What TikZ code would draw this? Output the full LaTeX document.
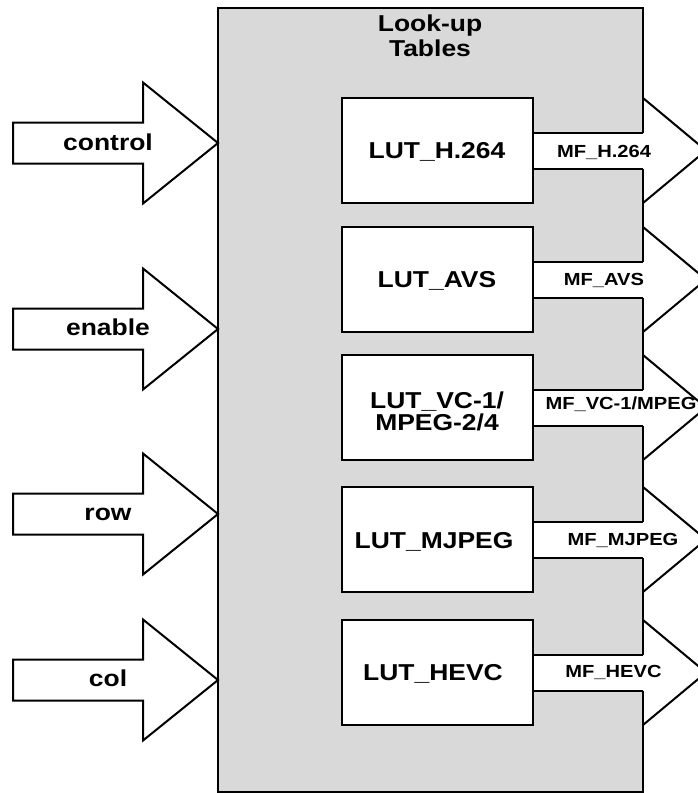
\documentclass[tikz,border=0pt]{standalone}
\usepackage{fontspec}
\setmainfont{Liberation Sans}
\usepackage{graphicx}
\definecolor{lutgray}{RGB}{217,217,217}
\newcommand\hstr[1]{\scalebox{1.15}[1]{#1}}
\begin{document}
\begin{tikzpicture}[x=1pt,y=-1pt,line width=2pt,line join=miter,
  bigtxt/.style={font=\fontsize{23}{25}\selectfont\bfseries,inner sep=0pt,anchor=base},
  smalltxt/.style={font=\fontsize{17.5}{19}\selectfont\bfseries,inner sep=0pt,anchor=base},
  lutbox/.style={draw,fill=white,minimum width=191pt,minimum height=105pt,inner sep=0pt},
  inarrow/.style={draw,fill=white},
  outhead/.style={draw,fill=white}]
\useasboundingbox (0,0) rectangle (698,793);
% output arrow heads (behind the gray block)
\foreach \c in {150.5,279.5,407.5,539.5,672.5}{
  \path[outhead] (643,\c-52.5) -- (706,\c) -- (643,\c+52.5);
}
% gray block
\draw[fill=lutgray] (218,8) rectangle (643,792);
% output shafts
\foreach \c in {150.5,279.5,407.5,539.5,672.5}{
  \fill[white] (533,\c-18) rectangle (645,\c+18);
  \draw (533,\c-18) -- (643,\c-18);
  \draw (533,\c+18) -- (643,\c+18);
}
% input arrows
\foreach \c in {143,329,514,680}{
  \path[inarrow] (13,\c-20.5) -- (143,\c-20.5) -- (143,\c-60.5) -- (218,\c)
    -- (143,\c+60.5) -- (143,\c+20.5) -- (13,\c+20.5) -- cycle;
}
% LUT boxes
\node[lutbox] (lut1) at (437.5,150.5) {};
\node[lutbox] (lut2) at (437.5,279.5) {};
\node[lutbox] (lut3) at (437.5,407.5) {};
\node[lutbox] (lut4) at (437.5,539.5) {};
\node[lutbox] (lut5) at (437.5,672.5) {};
% title
\node[bigtxt] (t1) at (430,31) {\hstr{Look-up}};
\node[bigtxt] (t2) at (430,56) {\hstr{Tables}};
% LUT labels
\node[bigtxt] (l1) at (437,158) {\hstr{LUT\_H.264}};
\node[bigtxt] (l2) at (437,287) {\hstr{LUT\_AVS}};
\node[bigtxt] (l3a) at (437,408) {\hstr{LUT\_VC-1/}};
\node[bigtxt] (l3b) at (437,430) {\hstr{MPEG-2/4}};
\node[bigtxt] (l4) at (434,548) {\hstr{LUT\_MJPEG}};
\node[bigtxt] (l5) at (433,680) {\hstr{LUT\_HEVC}};
% MF labels
\node[smalltxt] (m1) at (604,157) {\hstr{MF\_H.264}};
\node[smalltxt] (m2) at (604,285) {\hstr{MF\_AVS}};
\node[smalltxt] (m3) at (621,409) {\hstr{MF\_VC-1/MPEG}};
\node[smalltxt] (m4) at (623,545) {\hstr{MF\_MJPEG}};
\node[smalltxt] (m5) at (613.5,677) {\hstr{MF\_HEVC}};
% input labels
\node[bigtxt] (i1) at (108,150) {\hstr{control}};
\node[bigtxt] (i2) at (108,335.5) {\hstr{enable}};
\node[bigtxt] (i3) at (108,520.5) {\hstr{row}};
\node[bigtxt] (i4) at (108,686) {\hstr{col}};
\end{tikzpicture}
\end{document}
